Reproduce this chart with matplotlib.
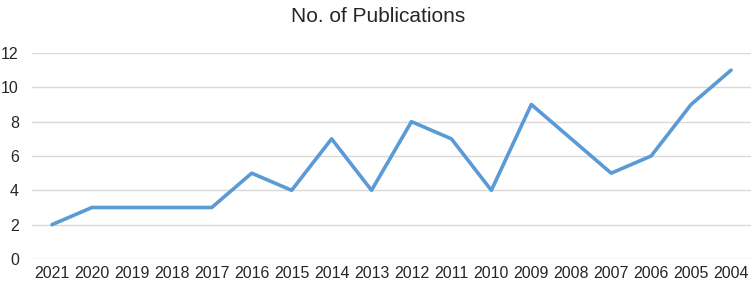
import matplotlib.pyplot as plt

years = ["2021", "2020", "2019", "2018", "2017", "2016", "2015", "2014", "2013",
         "2012", "2011", "2010", "2009", "2008", "2007", "2006", "2005", "2004"]
counts = [2, 3, 3, 3, 3, 5, 4, 7, 4, 8, 7, 4, 9, 7, 5, 6, 9, 11]
yticks = [0, 2, 4, 6, 8, 10, 12]

plt.rcParams['font.family'] = ['Liberation Sans', 'DejaVu Sans']

fig = plt.figure(figsize=(7.56, 2.89), dpi=100)
W, H = 756, 289
ax = fig.add_axes([32 / W, (H - 259) / H, (751 - 32) / W, (259 - 53) / H])

x = list(range(len(years)))
ax.plot(x, counts, color="#5b9bd5", linewidth=2.6, solid_capstyle="round",
        solid_joinstyle="round", zorder=3)

ax.set_xlim(-0.5, len(years) - 0.5)
ax.set_ylim(0, 12)
ax.set_yticks(yticks)
ax.set_xticks(x)
ax.set_xticklabels(years)
ax.grid(axis="y", color="#d9d9d9", linewidth=1)
ax.tick_params(length=0, labelsize=11.5, colors="#262626")
ax.tick_params(axis="x", pad=5)
ax.tick_params(axis="y", pad=9.5)
for s in ax.spines.values():
    s.set_visible(False)

fig.text(0.5, 1 - 17 / H, "No. of Publications", ha="center", va="center",
         fontsize=15, color="#262626")

fig.savefig("out.png", dpi=100)
